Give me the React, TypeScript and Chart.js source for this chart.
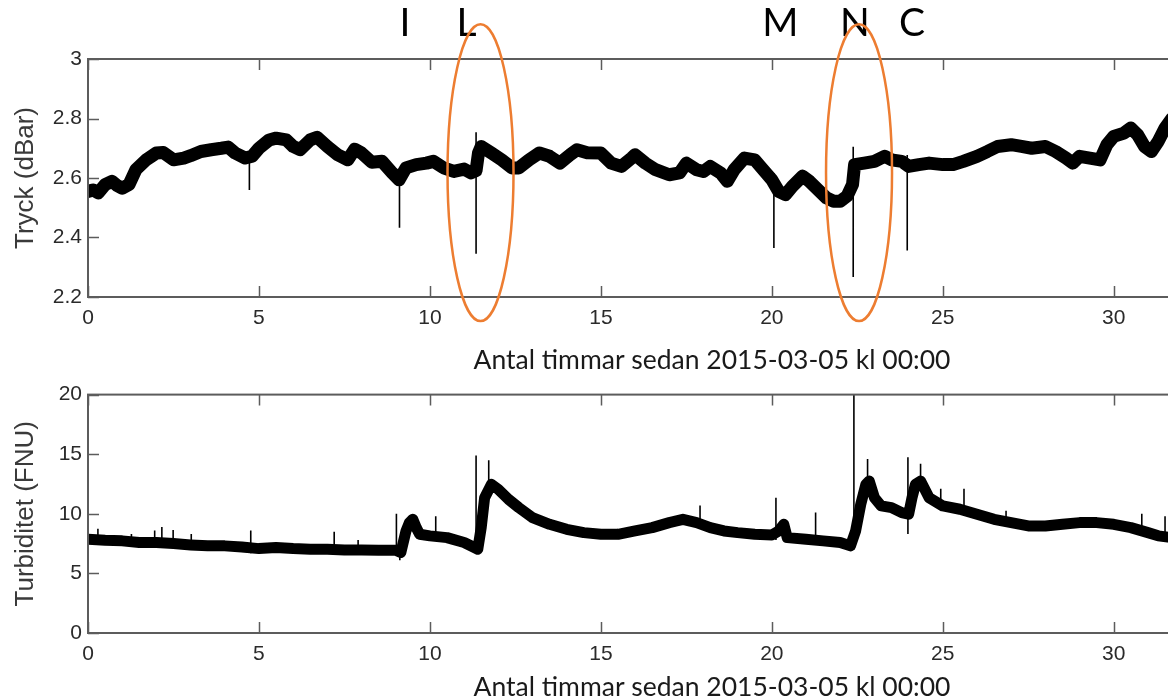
import React, { useEffect, useRef } from 'react';
import { Chart, registerables } from 'chart.js';

Chart.register(...registerables);

// ---------- data ----------
const pressureHours = [
  0, 0.15, 0.3, 0.5, 0.7, 0.85, 1.0, 1.2, 1.4, 1.7, 2.0, 2.2, 2.5, 2.8, 3.0, 3.3, 3.6, 3.9, 4.1, 4.3,
  4.6, 4.8, 5.0, 5.3, 5.5, 5.8, 6.0, 6.2, 6.5, 6.7, 7.0, 7.3, 7.6, 7.8, 8.0, 8.3, 8.6, 8.9, 9.1, 9.3,
  9.6, 9.9, 10.1, 10.4, 10.7, 11.0, 11.2, 11.35, 11.42, 11.5, 11.8, 12.1, 12.4, 12.6, 12.9, 13.2, 13.5, 13.8, 14.1, 14.3,
  14.6, 15.0, 15.3, 15.6, 15.9, 16.0, 16.3, 16.6, 17.0, 17.3, 17.5, 17.8, 18.0, 18.2, 18.5, 18.7, 18.9, 19.2, 19.5, 19.7,
  20.0, 20.2, 20.4, 20.6, 20.9, 21.1, 21.4, 21.6, 21.8, 22.0, 22.2, 22.36, 22.42, 22.7, 23.0, 23.3, 23.5, 23.8, 24.0, 24.3,
  24.6, 25.0, 25.3, 25.6, 26.0, 26.3, 26.6, 27.0, 27.3, 27.6, 28.0, 28.3, 28.6, 28.8, 29.0, 29.3, 29.6, 29.8, 30.0, 30.3,
  30.5, 30.7, 30.9, 31.1, 31.3, 31.5, 31.7,
];
const pressureValues = [
  2.555, 2.56, 2.55, 2.578, 2.589, 2.575, 2.566, 2.578, 2.628, 2.661, 2.684, 2.686, 2.661, 2.667, 2.675, 2.689, 2.695, 2.7, 2.704, 2.684,
  2.667, 2.673, 2.7, 2.728, 2.734, 2.728, 2.706, 2.695, 2.728, 2.737, 2.706, 2.678, 2.661, 2.697, 2.684, 2.653, 2.656, 2.617, 2.594, 2.634,
  2.645, 2.65, 2.656, 2.634, 2.622, 2.63, 2.617, 2.625, 2.684, 2.706, 2.684, 2.661, 2.634, 2.634, 2.661, 2.684, 2.673, 2.65, 2.678, 2.695,
  2.685, 2.684, 2.65, 2.639, 2.667, 2.678, 2.65, 2.628, 2.611, 2.617, 2.65, 2.628, 2.622, 2.639, 2.617, 2.589, 2.628, 2.667, 2.661, 2.634,
  2.594, 2.555, 2.544, 2.572, 2.606, 2.589, 2.555, 2.533, 2.522, 2.522, 2.539, 2.578, 2.645, 2.65, 2.656, 2.673, 2.661, 2.656, 2.639, 2.645,
  2.65, 2.645, 2.645, 2.656, 2.673, 2.689, 2.706, 2.712, 2.706, 2.7, 2.706, 2.689, 2.667, 2.65, 2.673, 2.667, 2.661, 2.712, 2.74, 2.751,
  2.768, 2.745, 2.706, 2.689, 2.723, 2.768, 2.8,
];
const pressureSpikeHours = [4.72, 9.11, 11.35, 20.06, 22.38, 23.96];
const pressureSpikeTops = [2.67, 2.6, 2.754, 2.617, 2.705, 2.677];
const pressureSpikeBottoms = [2.56, 2.433, 2.345, 2.365, 2.267, 2.356];

const turbidityHours = [
  0, 0.5, 1.0, 1.5, 2.0, 2.5, 3.0, 3.5, 4.0, 4.5, 5.0, 5.5, 6.0, 6.5, 7.0, 7.5, 8.0, 8.5, 9.0, 9.15,
  9.3, 9.4, 9.5, 9.6, 9.7, 10.0, 10.5, 11.0, 11.3, 11.4, 11.5, 11.6, 11.8, 12.0, 12.3, 12.6, 13.0, 13.5, 14.0, 14.5,
  15.0, 15.5, 16.0, 16.5, 17.0, 17.4, 17.8, 18.2, 18.6, 19.0, 19.5, 20.0, 20.2, 20.35, 20.45, 21.0, 21.5, 22.0, 22.3, 22.45,
  22.6, 22.75, 22.85, 23.0, 23.2, 23.5, 23.8, 24.0, 24.1, 24.2, 24.35, 24.6, 25.0, 25.5, 26.0, 26.5, 27.0, 27.5, 28.0, 28.5,
  29.0, 29.5, 30.0, 30.5, 31.0, 31.3, 31.7,
];
const turbidityValues = [
  7.87, 7.78, 7.73, 7.59, 7.59, 7.5, 7.39, 7.31, 7.31, 7.22, 7.08, 7.17, 7.08, 7.03, 7.03, 6.97, 6.97, 6.95, 6.95, 6.75,
  8.56, 9.26, 9.54, 8.84, 8.28, 8.15, 8.0, 7.59, 7.17, 7.03, 8.84, 11.35, 12.47, 12.05, 11.21, 10.52, 9.68, 9.12, 8.7, 8.42,
  8.28, 8.28, 8.56, 8.84, 9.26, 9.54, 9.26, 8.84, 8.56, 8.42, 8.28, 8.23, 8.56, 9.12, 8.0, 7.87, 7.73, 7.59, 7.31, 8.56,
  10.79, 12.47, 12.75, 11.35, 10.66, 10.52, 10.1, 9.96, 11.35, 12.47, 12.75, 11.35, 10.66, 10.38, 9.96, 9.54, 9.26, 8.98, 8.98, 9.12,
  9.26, 9.26, 9.12, 8.84, 8.42, 8.15, 8.0,
];
const turbiditySpikeHours = [
  0.29, 1.27, 1.95, 2.16, 2.49, 3.02, 4.76, 7.2, 7.9, 9.02, 9.12, 10.17, 11.35, 11.72, 17.9, 20.12, 21.28, 22.4,
  22.8, 23.98, 24.35, 24.94, 25.62, 26.85, 30.82, 31.5,
];
const turbiditySpikeTops = [
  8.75, 8.3, 8.6, 8.9, 8.65, 8.3, 8.6, 8.5, 7.8, 10.0, 7.0, 9.8, 14.9, 14.5, 10.7, 11.35, 10.1, 20,
  14.6, 14.75, 14.2, 12.1, 12.1, 10.25, 10.0, 9.8,
];
const turbiditySpikeBottoms = [
  7.6, 7.4, 7.3, 7.3, 7.2, 7.1, 6.7, 6.8, 6.8, 6.9, 6.1, 7.9, 7.0, 12.0, 9.0, 7.8, 7.6, 7.0,
  12.0, 8.3, 12.0, 10.5, 10.0, 9.2, 8.6, 8.0,
];

const markerLabels = ['I', 'L', 'M', 'N', 'C'];
const markerHours = [9.27, 11.07, 20.25, 22.43, 24.1];
const ellipseHours = [11.48, 22.55];

const xTitle = 'Antal timmar sedan 2015-03-05 kl 00:00';
const pressureTitle = 'Tryck (dBar)';
const turbidityTitle = 'Turbiditet (FNU)';

// ---------- layout constants ----------
const X_MAX = 36.5;
const CANVAS_W = 1345;
const AREA_LEFT = 88;
const AREA_RIGHT = 1336;
const TOP_H = 376;
const BOT_H = 327;
const AXIS_COLOR = '#5c5c5c';
const TEXT_COLOR = '#2a2a2a';
const TICK_LEN = 11;

function buildLine(hours: number[], values: number[]) {
  return hours.map((h, i) => ({ x: h, y: values[i] }));
}
function buildSpikes(hours: number[], tops: number[], bottoms: number[]) {
  const pts: { x: number; y: number | null }[] = [];
  hours.forEach((h, i) => {
    pts.push({ x: h, y: tops[i] }, { x: h, y: bottoms[i] }, { x: h, y: null });
  });
  return pts;
}

const framePlugin = {
  id: 'matlabFrame',
  afterDatasetsDraw(chart: any) {
    const { ctx, chartArea } = chart;
    const { left, right, top, bottom } = chartArea;
    const xs = chart.scales.x;
    const ys = chart.scales.y;
    ctx.save();
    ctx.strokeStyle = AXIS_COLOR;
    ctx.lineWidth = 2;
    ctx.strokeRect(left, top, right - left, bottom - top);
    ctx.lineWidth = 1.5;
    ctx.beginPath();
    xs.ticks.forEach((t: any) => {
      const px = Math.round(xs.getPixelForValue(t.value)) + 0.5;
      ctx.moveTo(px, bottom);
      ctx.lineTo(px, bottom - TICK_LEN);
      ctx.moveTo(px, top);
      ctx.lineTo(px, top + TICK_LEN);
    });
    ys.ticks.forEach((t: any) => {
      const py = Math.round(ys.getPixelForValue(t.value)) + 0.5;
      ctx.moveTo(left, py);
      ctx.lineTo(left + TICK_LEN, py);
      ctx.moveTo(right, py);
      ctx.lineTo(right - TICK_LEN, py);
    });
    ctx.stroke();
    ctx.restore();
  },
};

const annotationPlugin = {
  id: 'eventMarks',
  afterDraw(chart: any) {
    if (!chart.options.plugins.eventMarks?.enabled) return;
    const { ctx } = chart;
    const xs = chart.scales.x;
    const ys = chart.scales.y;
    ctx.save();
    ctx.fillStyle = '#000';
    ctx.font = '39px Lato';
    ctx.textAlign = 'center';
    ctx.textBaseline = 'middle';
    const labelY = ys.getPixelForValue(3.118);
    markerLabels.forEach((lab, i) => {
      ctx.fillText(lab, xs.getPixelForValue(markerHours[i]), labelY);
    });
    ctx.strokeStyle = '#ED7D31';
    ctx.lineWidth = 2.5;
    const cy = ys.getPixelForValue(2.618);
    const ry = Math.abs(ys.getPixelForValue(2.618 + 0.499) - cy);
    ellipseHours.forEach((h) => {
      const cx = xs.getPixelForValue(h);
      const rx = Math.abs(xs.getPixelForValue(h + 0.965) - cx);
      ctx.beginPath();
      ctx.ellipse(cx, cy, rx, ry, 0, 0, Math.PI * 2);
      ctx.stroke();
    });
    ctx.restore();
  },
};

function makeConfig(opts: {
  line: any[];
  spikes: any[];
  yMin: number;
  yMax: number;
  yStep: number;
  yTitle: string;
  padTop: number;
  xHeight: number;
  xTitlePad: number;
  bandWidth: number;
  marks: boolean;
}) {
  return {
    type: 'line',
    data: {
      datasets: [
        {
          data: opts.line,
          borderColor: '#000',
          borderWidth: opts.bandWidth,
          borderJoinStyle: 'round',
          borderCapStyle: 'round',
          pointRadius: 0,
          tension: 0,
        },
        {
          data: opts.spikes,
          borderColor: '#000',
          borderWidth: 1.6,
          pointRadius: 0,
          spanGaps: false,
          tension: 0,
        },
      ],
    },
    options: {
      responsive: false,
      animation: false,
      events: [],
      layout: { padding: { top: opts.padTop, left: 0, right: CANVAS_W - AREA_RIGHT, bottom: 0 } },
      plugins: {
        legend: { display: false },
        tooltip: { enabled: false },
        eventMarks: { enabled: opts.marks },
      },
      scales: {
        x: {
          type: 'linear',
          min: 0,
          max: X_MAX,
          afterFit: (s: any) => {
            s.height = opts.xHeight;
          },
          grid: { display: false, drawTicks: false },
          border: { display: false },
          ticks: {
            stepSize: 5,
            autoSkip: false,
            includeBounds: false,
            maxRotation: 0,
            padding: 9,
            color: TEXT_COLOR,
            font: { family: 'Liberation Sans', size: 21 },
          },
          title: {
            display: true,
            text: xTitle,
            color: '#1a1a1a',
            font: { family: 'Lato', size: 26.5 },
            padding: { top: 0, bottom: opts.xTitlePad },
          },
        },
        y: {
          type: 'linear',
          min: opts.yMin,
          max: opts.yMax,
          afterFit: (s: any) => {
            s.width = AREA_LEFT;
          },
          grid: { display: false, drawTicks: false },
          border: { display: false },
          ticks: {
            stepSize: opts.yStep,
            padding: 6,
            color: TEXT_COLOR,
            font: { family: 'Liberation Sans', size: 21 },
            callback: (v: number) => String(Math.round(v * 10) / 10),
          },
          title: {
            display: true,
            text: opts.yTitle,
            color: '#3a3a3a',
            font: { family: 'Liberation Sans', size: 26 },
            padding: { top: 10, bottom: 0 },
          },
        },
      },
    },
    plugins: [framePlugin, annotationPlugin],
  };
}

export default function App() {
  const topRef = useRef<HTMLCanvasElement | null>(null);
  const botRef = useRef<HTMLCanvasElement | null>(null);

  useEffect(() => {
    const top = new Chart(
      topRef.current as HTMLCanvasElement,
      makeConfig({
        line: buildLine(pressureHours, pressureValues),
        spikes: buildSpikes(pressureSpikeHours, pressureSpikeTops, pressureSpikeBottoms),
        yMin: 2.2,
        yMax: 3,
        yStep: 0.2,
        yTitle: pressureTitle,
        padTop: 59,
        xHeight: TOP_H - 297,
        xTitlePad: 0,
        bandWidth: 13,
        marks: true,
      }) as any
    );
    const bot = new Chart(
      botRef.current as HTMLCanvasElement,
      makeConfig({
        line: buildLine(turbidityHours, turbidityValues),
        spikes: buildSpikes(turbiditySpikeHours, turbiditySpikeTops, turbiditySpikeBottoms),
        yMin: 0,
        yMax: 20,
        yStep: 5,
        yTitle: turbidityTitle,
        padTop: 16,
        xHeight: BOT_H - 257,
        xTitlePad: 0,
        bandWidth: 11,
        marks: false,
      }) as any
    );
    return () => {
      top.destroy();
      bot.destroy();
    };
  }, []);

  return (
    <div
      style={{
        position: 'fixed',
        left: 0,
        top: 0,
        width: 1168,
        height: 700,
        overflow: 'hidden',
        background: '#fff',
      }}
    >
      <canvas ref={topRef} width={CANVAS_W} height={TOP_H} style={{ position: 'absolute', left: 0, top: 0 }} />
      <canvas ref={botRef} width={CANVAS_W} height={BOT_H} style={{ position: 'absolute', left: 0, top: TOP_H }} />
    </div>
  );
}
